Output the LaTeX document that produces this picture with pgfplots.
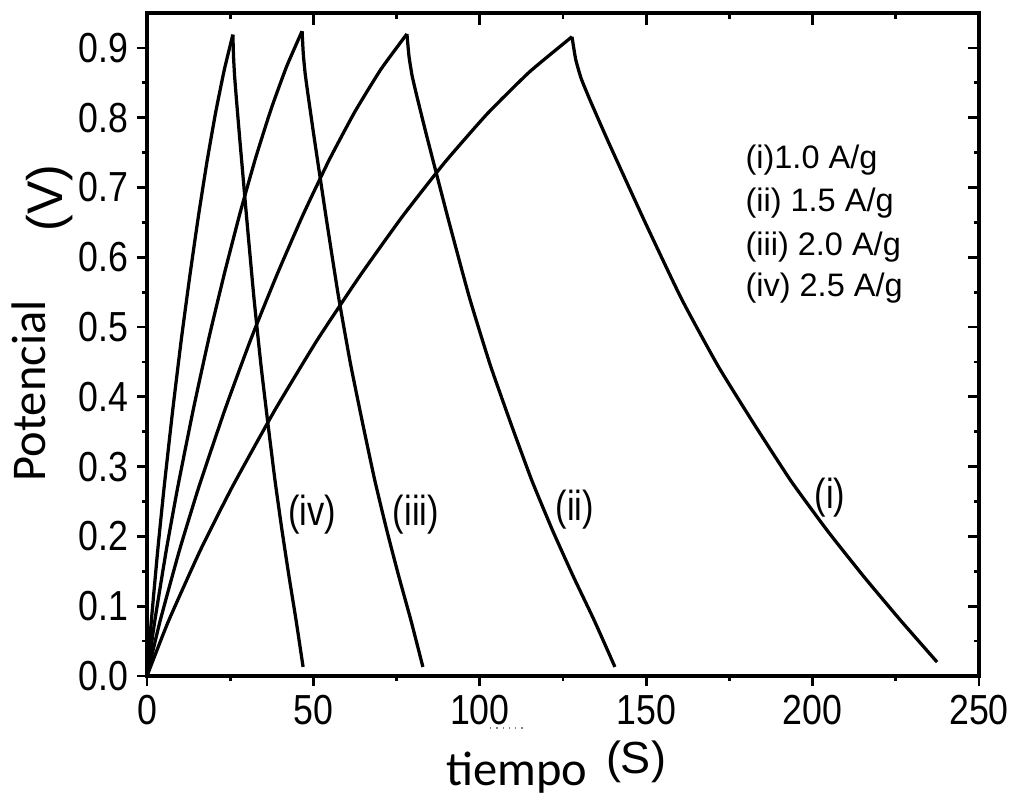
\documentclass[border=0pt]{standalone}
\usepackage{fontspec}
\usepackage{pgfplots}
\pgfplotsset{compat=1.18}
\setmainfont{Liberation Sans}
\newfontfamily\tickfont{Liberation Sans}[FakeStretch=0.85]
\newfontfamily\labfont{Liberation Sans}[FakeStretch=0.82]
\newfontfamily\axfont{Carlito}

\pgfplotsset{
  gcdcommon/.style={
    at={(0,0)}, anchor=south west,
    scale only axis, width=332.8pt, height=265.2pt,
    xmin=0, xmax=250, ymin=0, ymax=0.95,
    axis line style={line width=1.3pt},
    xtick={0,50,100,150,200,250},
    ytick={0,0.1,0.2,0.3,0.4,0.5,0.6,0.7,0.8,0.9},
    minor x tick num=1, minor y tick num=1,
    every tick/.style={black, line width=1.1pt},
  },
  curve/.style={black, line width=1.3pt, smooth, tension=0.3, mark=none},
}

\begin{document}
\begin{tikzpicture}
\path[use as bounding box] (-58.8pt,-50.4pt) rectangle (350.4pt,270.4pt);

% mirrored ticks on top and right, pointing inwards
\begin{axis}[gcdcommon,
  xtick pos=top, ytick pos=right, tick align=inside,
  major tick length=4.6pt, minor tick length=2.2pt,
  xticklabels={}, yticklabels={},
]
\end{axis}

\begin{axis}[gcdcommon,
  xtick pos=bottom, ytick pos=left, tick align=outside,
  major tick length=4pt, minor tick length=2pt,
  tick label style={font=\tickfont\fontsize{16.8}{18}\selectfont},
  /pgf/number format/assume math mode=true,
  yticklabel style={/pgf/number format/.cd, fixed, fixed zerofill, precision=1},
  clip=false,
]
% (i) 1.0 A/g: charge, then discharge
\addplot[curve] coordinates {
(0,0) (6.385,0.0779) (15.96,0.1795) (25.54,0.2702) (38.31,0.3801) (51.08,0.4809)
(63.85,0.5725) (76.62,0.6577) (89.39,0.7355) (102.16,0.8052) (114.93,0.8656) (127.7,0.916)};
\addplot[curve] coordinates {
(127.7,0.916) (128.80,0.8839) (130.44,0.8565) (133.19,0.8244) (138.67,0.7649) (149.64,0.6504)
(160.61,0.5404) (171.58,0.4443) (182.55,0.36) (193.52,0.2794) (204.49,0.2079) (215.46,0.142)
(226.43,0.0797) (237.4,0.02)};
% (ii) 1.5 A/g
\addplot[curve] coordinates {
(0,0) (3.905,0.0782) (9.763,0.1803) (15.62,0.2714) (23.43,0.3818) (31.24,0.483)
(39.05,0.575) (46.86,0.6606) (54.67,0.7388) (62.48,0.8087) (70.29,0.8694) (78.1,0.92)};
\addplot[curve] coordinates {
(78.1,0.92) (78.73,0.8878) (79.66,0.8602) (81.23,0.828) (84.35,0.7682) (90.6,0.6532)
(96.85,0.5428) (103.1,0.4462) (109.35,0.3616) (115.6,0.2806) (121.85,0.2088) (128.1,0.1426)
(134.35,0.08) (140.6,0.013)};
% (iii) 2.0 A/g
\addplot[curve] coordinates {
(0,0) (2.33,0.0785) (5.825,0.1811) (9.32,0.2726) (13.98,0.3835) (18.64,0.4851)
(23.3,0.5775) (27.96,0.6634) (32.62,0.742) (37.28,0.8122) (41.94,0.8732) (46.6,0.924)};
\addplot[curve] coordinates {
(46.6,0.924) (46.96,0.8917) (47.51,0.8639) (48.42,0.8316) (50.23,0.7715) (53.86,0.656)
(57.49,0.5452) (61.12,0.4481) (64.75,0.3631) (68.38,0.2818) (72.01,0.2097) (75.64,0.1432)
(79.27,0.0804) (82.9,0.013)};
% (iv) 2.5 A/g
\addplot[curve] coordinates {
(0,0) (1.29,0.0781) (3.225,0.1801) (5.16,0.2711) (7.74,0.3814) (10.32,0.4825)
(12.9,0.5744) (15.48,0.6598) (18.06,0.738) (20.64,0.8078) (23.22,0.8685) (25.8,0.919)};
\addplot[curve] coordinates {
(25.8,0.919) (26.01,0.8868) (26.33,0.8593) (26.86,0.8271) (27.91,0.7674) (30.02,0.6525)
(32.13,0.5422) (34.24,0.4457) (36.35,0.3612) (38.46,0.2803) (40.57,0.2086) (42.68,0.1424)
(44.79,0.08) (46.9,0.013)};

% curve labels
\begin{scope}[every node/.style={font=\labfont\fontsize{16.8}{18}\selectfont, inner sep=0pt}]
\node at (axis cs:49.6,0.231) {(iv)};
\node at (axis cs:80.8,0.231) {(iii)};
\node at (axis cs:128.6,0.239) {(ii)};
\node at (axis cs:205.2,0.255) {(i)};
\end{scope}

% current densities
\begin{scope}[every node/.style={font=\fontsize{13}{15}\selectfont, anchor=west, inner sep=0pt}]
\node at (axis cs:179.7,0.739) {(i)1.0 A/g};
\node at (axis cs:179.7,0.678) {(ii) 1.5 A/g};
\node at (axis cs:179.7,0.615) {(iii) 2.0 A/g};
\node at (axis cs:179.7,0.556) {(iv) 2.5 A/g};
\end{scope}
\end{axis}

% stray underline below the 100 tick label
\draw[gray, line width=0.5pt, dotted] (137.2pt,-20.8pt) -- (151.2pt,-20.8pt);

% axis titles
\node[font=\axfont\fontsize{19.4}{22}\selectfont, anchor=base, inner sep=0pt] at (148pt,-43.6pt) {tiempo};
\node[font=\fontsize{18}{20}\selectfont, inner sep=0pt] at (195.6pt,-34.4pt) {(S)};
\node[rotate=90, font=\axfont\fontsize{19.4}{22}\selectfont, inner sep=0pt] at (-47.2pt,114pt) {Potencial};
\node[rotate=90, font=\fontsize{20}{22}\selectfont, inner sep=0pt] at (-38.8pt,191.2pt) {(V)};
\end{tikzpicture}
\end{document}
